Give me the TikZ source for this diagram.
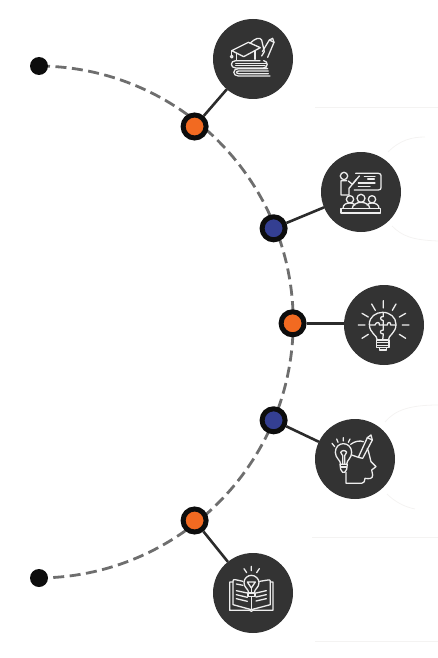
\documentclass[tikz,border=0pt]{standalone}
\usetikzlibrary{backgrounds}
\definecolor{disc}{HTML}{333333}
\definecolor{ink}{HTML}{0D0D0D}
\definecolor{orangeC}{HTML}{F26A21}
\definecolor{blueC}{HTML}{343F92}
\definecolor{dashC}{HTML}{6E6E6E}
\definecolor{iconC}{HTML}{EDEDED}
\definecolor{faintC}{HTML}{F4F3F2}
\tikzset{
 disc/.style={circle,fill=disc,minimum size=80pt,inner sep=0pt,outer sep=0pt},
 junc/.style={circle,draw=ink,line width=5pt,minimum size=23pt,inner sep=0pt,outer sep=2.5pt,fill=#1},
 endp/.style={circle,fill=ink,minimum size=18pt,inner sep=0pt},
 link/.style={draw=disc!85!black,line width=2.6pt},
 track/.style={draw=dashC,line width=2.8pt,dash pattern=on 11pt off 5.5pt},
 faint/.style={draw=faintC,line width=0.8pt},
 icon/.style={shift={(#1)},x=0.3333pt,y=-0.3333pt,draw=iconC,line width=1.3pt,line join=round,line cap=round}
}
\begin{document}
\begin{tikzpicture}[x=1pt,y=-1pt]
\useasboundingbox (0,0) rectangle (438,658);
% faint residue
\draw[faint] (315,107) -- (438,107);
\draw[faint] (388,152) .. controls (400,140) and (412,137) .. (425,137);
\draw[faint] (392,226) .. controls (402,236) and (412,240) .. (438,241);
\draw[faint] (385,422) .. controls (395,410) and (410,405) .. (438,405);
\draw[faint] (387,494) .. controls (395,502) and (405,507) .. (415,509);
\draw[faint] (312,537) -- (438,537);
\draw[faint] (315,641) -- (438,641);
% nodes
\node[endp] (s) at (39,66) {};
\node[endp] (e) at (39,578) {};
\node[junc=orangeC] (j1) at (194.6,126.5) {};
\node[junc=blueC] (j2) at (273.6,228.3) {};
\node[junc=orangeC] (j3) at (292.6,323.3) {};
\node[junc=blueC] (j4) at (273.6,420.3) {};
\node[junc=orangeC] (j5) at (194.6,520.5) {};
\node[disc] (c1) at (253,59) {};
\node[disc] (c2) at (361,192) {};
\node[disc] (c3) at (384,325) {};
\node[disc] (c4) at (355,459) {};
\node[disc] (c5) at (253,593) {};
\begin{scope}[on background layer]
\draw[track] (s.center) arc[start angle=-89.6,end angle=89.6,radius=256];
\end{scope}
\draw[link] (j1) -- (c1);
\draw[link] (j2) -- (c2);
\draw[link] (j3) -- (j3 -| c3.west);
\draw[link] (j4) -- (c4);
\draw[link] (j5) -- (c5);
% icon 1: cap, pencils, books
\begin{scope}[icon={205,10}]
\draw (80,122) -- (130,97) -- (166,113) -- (116,140) -- cycle;
\draw (95,130) -- (95,150);
\draw (150,122) -- (150,148);
\draw (80,122) -- (80,135);
\draw (80,140) circle (4);
\draw (135,100) .. controls (150,85) and (165,80) .. (170,90) -- (178,125) -- (170,138);
\draw (172,125) -- (193,90) -- (207,97) -- (188,142);
\draw (193,90) -- (203,85) -- (207,97);
\draw (165,152) -- (92,152) .. controls (75,152) and (75,174) .. (92,174) -- (185,174);
\draw (185,160) -- (92,160);
\draw (176,152) .. controls (190,154) and (190,172) .. (176,174);
\draw (92,166) -- (180,166);
\draw (188,176) -- (100,176) .. controls (82,176) and (82,198) .. (100,198) -- (195,198);
\draw (190,183) -- (102,183) .. controls (92,183) and (92,191) .. (102,191) -- (190,191);
\end{scope}
% icon 2: teacher and class
\begin{scope}[icon={315,145}]
\draw (87,93) circle (11);
\draw (95,107) -- (78,107) -- (78,150) -- (102,150) -- (102,130) -- (133,93);
\draw (100,108) -- (112,118) -- (125,102);
\draw (122,85) -- (190,85) .. controls (196,85) and (198,88) .. (198,92) -- (198,128) .. controls (198,132) and (196,135) .. (190,135) -- (118,135);
\draw (148,94) -- (180,94) (158,102) -- (178,102) (130,114) -- (180,114) (130,124) -- (165,124);
\draw (105,163) circle (11) (138,160) circle (12) (171,163) circle (11);
\draw (84,190) .. controls (84,178) and (94,174) .. (105,174) .. controls (112,174) and (116,176) .. (120,180);
\draw (112,190) .. controls (112,180) and (125,172) .. (138,172) .. controls (152,172) and (164,180) .. (164,190);
\draw (156,180) .. controls (160,176) and (165,174) .. (171,174) .. controls (183,174) and (192,180) .. (192,190);
\draw (78,190) rectangle (197,204);
\end{scope}
% icon 3: bulb with puzzle
\begin{scope}[icon={340,280}]
\draw (130,62) -- (130,84) (95,72) -- (106,91) (168,72) -- (157,91) (66,100) -- (85,111) (197,100) -- (178,111) (55,135) -- (75,135) (187,135) -- (207,135) (66,175) -- (85,163) (197,175) -- (178,163);
\draw (112,180) .. controls (112,165) and (88,160) .. (88,133) .. controls (88,110) and (108,97) .. (128,97) .. controls (150,97) and (168,112) .. (168,133) .. controls (168,160) and (145,165) .. (145,180);
\draw (110,180) -- (147,180) (110,180) -- (110,203) -- (147,203) -- (147,180);
\draw (110,188) -- (147,188) (110,196) -- (147,196);
\draw (118,203) -- (118,210) -- (139,210) -- (139,203);
\draw (90,135) -- (105,135) .. controls (108,125) and (120,125) .. (118,135) -- (130,135) -- (130,122) .. controls (118,120) and (120,108) .. (130,110) -- (130,98);
\draw (130,135) -- (130,150) .. controls (118,150) and (118,162) .. (130,162) -- (128,180);
\draw (130,135) -- (142,135) .. controls (140,125) and (155,125) .. (152,135) -- (167,135);
\end{scope}
% icon 4: head, bulb, pencil
\begin{scope}[icon={310,415}]
\draw (66,85) -- (74,95) (80,72) -- (84,82) (100,68) -- (100,78) (120,72) -- (115,82);
\draw (92,148) .. controls (92,135) and (76,130) .. (76,112) .. controls (76,95) and (88,86) .. (100,86) .. controls (113,86) and (125,96) .. (125,112) .. controls (125,130) and (110,135) .. (110,148);
\draw (90,148) -- (112,148) -- (110,163) -- (104,172) -- (98,172) -- (92,163) -- cycle;
\draw (92,156) -- (110,156);
\draw (92,112) -- (98,122) -- (98,148) (110,112) -- (104,122) -- (104,148) (92,112) .. controls (95,105) and (107,105) .. (110,112);
\draw (122,88) .. controls (135,78) and (150,76) .. (160,80);
\draw (172,100) .. controls (178,115) and (180,130) .. (183,140) -- (198,155) -- (185,165) -- (188,180) .. controls (188,192) and (178,192) .. (165,190) .. controls (165,198) and (162,205) .. (155,205) -- (108,205) -- (108,172);
\draw (125,120) -- (145,127) -- (172,68) -- (187,75) -- (158,130) -- (145,127);
\draw (172,68) -- (183,60) -- (187,75);
\end{scope}
% icon 5: open book with bulb
\begin{scope}[icon={208,548}]
\draw (130,55) -- (130,68) (108,62) -- (116,74) (154,62) -- (146,74);
\draw (122,135) .. controls (122,122) and (108,120) .. (108,104) .. controls (108,90) and (120,82) .. (130,82) .. controls (142,82) and (153,92) .. (153,104) .. controls (153,120) and (139,122) .. (139,135);
\draw (120,135) -- (141,135) -- (141,146) -- (120,146) -- cycle;
\draw (118,102) -- (142,102) -- (130,120) -- cycle;
\draw (130,120) -- (130,135);
\draw (130,146) -- (130,185);
\draw (105,100) -- (82,95) .. controls (76,94) and (75,96) .. (75,100) -- (75,170) -- (130,185) -- (187,170) -- (187,100) .. controls (187,96) and (184,95) .. (180,96) -- (155,100);
\draw (75,102) -- (65,102) -- (65,187) -- (125,187) -- (130,190) -- (135,187) -- (195,187) -- (195,102) -- (187,102);
\draw (85,108) -- (105,112) (85,128) -- (118,135) (85,140) -- (118,148) (85,152) -- (118,160);
\draw (144,135) -- (175,128) (144,147) -- (175,140) (144,159) -- (175,152);
\end{scope}
\end{tikzpicture}
\end{document}
